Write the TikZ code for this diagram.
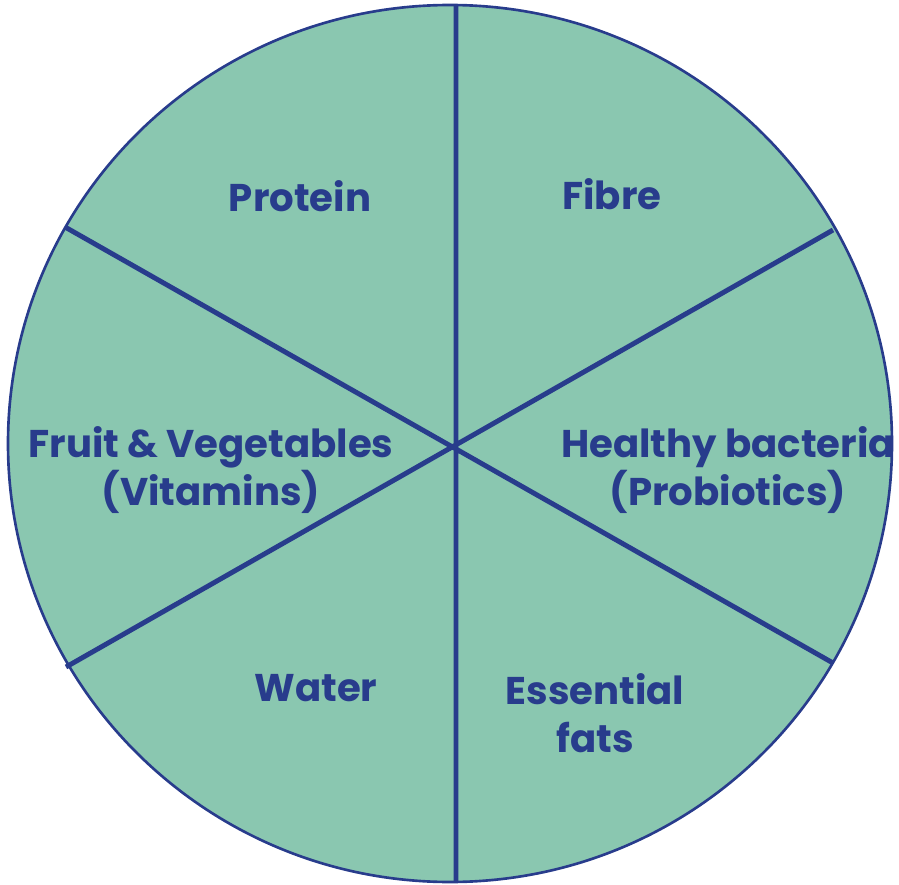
\documentclass[tikz,border=0pt]{standalone}
\usepackage{fontspec}
\setmainfont{Poppins}[UprightFont=* Bold]
\definecolor{plate}{RGB}{138,199,176}
\definecolor{ink}{RGB}{40,60,140}
\begin{document}
\begin{tikzpicture}[x=0.02cm,y=-0.02cm,lbl/.style={text=ink,align=center,font=\fontsize{22}{27}\selectfont}]
\useasboundingbox (0,0) rectangle (899,885);
\fill[plate,draw=ink,line width=1.5pt] (450,443.5) ellipse [x radius=442,y radius=438.5];
\coordinate (hub) at (455,447); \coordinate (top) at (456,5); \coordinate (bot) at (456,882);
\coordinate (ul) at (65,227); \coordinate (ur) at (833,230); \coordinate (ll) at (66,667); \coordinate (lr) at (833,663);
\draw[ink,line width=2.8pt] (top)--(bot) (ul)--(lr) (ur)--(ll);
\node[lbl] (protein) at (300,196) {Protein}; \node[lbl] (fibre) at (612,194) {Fibre};
\node[lbl] (fruit) at (211,470) {Fruit \& Vegetables\\(Vitamins)};
\node[lbl] (bact) at (728,470) {Healthy bacteria\\(Probiotics)};
\node[lbl] (water) at (316,688) {Water}; \node[lbl] (fats) at (595,713) {Essential\\fats};
\end{tikzpicture}
\end{document}
